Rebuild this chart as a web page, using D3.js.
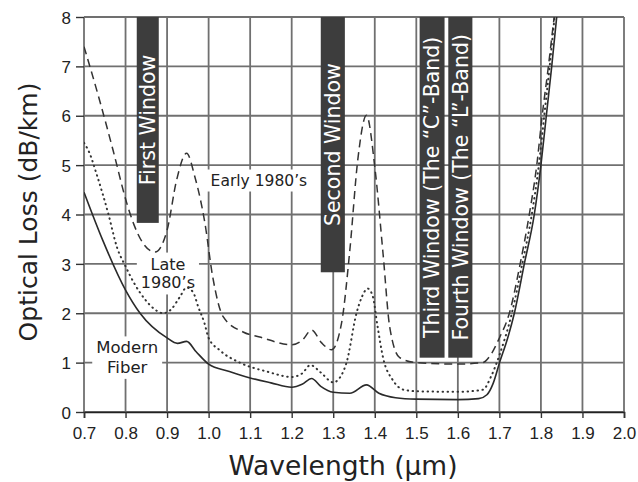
<!DOCTYPE html>
<html>
<head>
<meta charset="utf-8">
<script src="https://cdn.jsdelivr.net/npm/d3@7"></script>
<style>
  body { margin: 0; background: #fff; }
  svg { display: block; font-family: "DejaVu Sans", Verdana, sans-serif; }
  .tick text { fill: #222; font-size: 17px; }
</style>
</head>
<body>
<div id="chart"></div>
<script>
// wavelength (µm) / loss (dB/km)
const modernFiber = [
    [0.70, 4.45], [0.745, 3.48], [0.80, 2.47], [0.835, 2.0], [0.90, 1.50], [0.925, 1.39],
    [0.947, 1.43], [0.97, 1.22], [1.00, 0.97], [1.05, 0.82], [1.10, 0.69], [1.15, 0.59],
    [1.20, 0.50], [1.225, 0.56], [1.248, 0.68], [1.27, 0.52], [1.30, 0.40], [1.34, 0.38],
    [1.38, 0.55], [1.41, 0.38], [1.45, 0.29], [1.50, 0.26], [1.60, 0.25], [1.65, 0.27],
    [1.67, 0.35], [1.685, 0.58], [1.70, 0.99], [1.72, 1.5], [1.736, 2.0], [1.76, 3.0],
    [1.784, 4.0], [1.80, 5.0], [1.813, 6.0], [1.826, 7.0], [1.838, 8.0], [1.845, 8.5]
];
const late1980s = [
    [0.70, 5.45], [0.712, 5.27], [0.731, 4.80], [0.758, 4.03], [0.78, 3.32], [0.80, 2.95],
    [0.82, 2.62], [0.845, 2.30], [0.87, 2.08], [0.89, 2.00], [0.91, 2.08], [0.93, 2.32],
    [0.947, 2.52], [0.963, 2.42], [0.975, 2.13], [0.99, 1.80], [1.00, 1.50], [1.027, 1.25],
    [1.075, 1.00], [1.14, 0.82], [1.20, 0.71], [1.225, 0.78], [1.245, 0.95], [1.27, 0.80],
    [1.30, 0.60], [1.32, 0.75], [1.332, 1.00], [1.356, 2.00], [1.37, 2.35], [1.383, 2.50],
    [1.395, 2.35], [1.407, 1.72], [1.42, 1.10], [1.443, 0.65], [1.47, 0.45], [1.50, 0.42],
    [1.60, 0.41], [1.66, 0.45], [1.68, 0.72], [1.69, 0.92], [1.70, 1.15], [1.73, 2.0],
    [1.755, 3.0], [1.778, 4.0], [1.795, 5.0], [1.808, 6.0], [1.821, 7.0], [1.833, 8.0], [1.84, 8.5]
];
const early1980s = [
    [0.70, 7.40], [0.738, 6.30], [0.77, 5.30], [0.803, 4.23], [0.82, 3.80], [0.842, 3.42],
    [0.871, 3.24], [0.90, 3.68], [0.923, 4.70], [0.947, 5.24], [0.967, 4.76], [0.991, 3.83],
    [1.01, 2.73], [1.035, 1.93], [1.083, 1.62], [1.123, 1.52], [1.20, 1.36], [1.225, 1.45],
    [1.248, 1.66], [1.272, 1.40], [1.296, 1.26], [1.32, 1.80], [1.34, 3.28], [1.359, 5.10],
    [1.38, 6.01], [1.40, 4.97], [1.42, 3.20], [1.436, 1.72], [1.46, 1.10], [1.50, 1.00],
    [1.60, 0.97], [1.66, 1.00], [1.676, 1.12], [1.70, 1.5], [1.724, 2.0], [1.75, 3.0],
    [1.772, 4.0], [1.79, 5.0], [1.803, 6.0], [1.818, 7.0], [1.832, 8.0], [1.84, 8.5]
];

// transmission windows: start, end, lower edge of the box
const windowNames = ['First Window', 'Second Window', 'Third Window (The \u201CC\u201D-Band)', 'Fourth Window (The \u201CL\u201D-Band)'];
const windowStart = [0.827, 1.27, 1.508, 1.577];
const windowEnd = [0.88, 1.328, 1.568, 1.635];
const windowBottom = [3.83, 2.83, 1.1, 1.1];

const xTicks = d3.range(7, 21).map(d => d / 10);
const yTicks = d3.range(0, 9);

const width = 638, height = 482;
const plotLeft = 84, plotRight = 624, plotTop = 17, plotBottom = 412;

const svg = d3.select('#chart').append('svg')
    .attr('width', width)
    .attr('height', height);

const x = d3.scaleLinear().domain([0.7, 2.0]).range([plotLeft, plotRight]);
const y = d3.scaleLinear().domain([0, 8]).range([plotBottom, plotTop]);

svg.append('clipPath').attr('id', 'plot-clip')
    .append('rect')
    .attr('x', plotLeft).attr('y', plotTop)
    .attr('width', plotRight - plotLeft).attr('height', plotBottom - plotTop);

// grid
const grid = svg.append('g').attr('stroke', '#707070').attr('stroke-width', 1.8);
grid.selectAll('line.v').data(xTicks).enter().append('line')
    .attr('x1', d => x(d)).attr('x2', d => x(d))
    .attr('y1', plotTop).attr('y2', plotBottom);
grid.selectAll('line.h').data(yTicks).enter().append('line')
    .attr('x1', plotLeft).attr('x2', plotRight)
    .attr('y1', d => y(d)).attr('y2', d => y(d));

// axes
const xAxis = svg.append('g')
    .attr('transform', `translate(0,${plotBottom})`)
    .call(d3.axisBottom(x).tickValues(xTicks).tickSize(6).tickPadding(9).tickFormat(d3.format('.1f')));
const yAxis = svg.append('g')
    .attr('transform', `translate(${plotLeft},0)`)
    .call(d3.axisLeft(y).tickValues(yTicks).tickSize(8).tickPadding(5).tickFormat(d3.format('d')));
xAxis.select('.domain').attr('stroke', '#222').attr('stroke-width', 1.6);
yAxis.select('.domain').remove();
svg.selectAll('.tick line').attr('stroke', '#333').attr('stroke-width', 1.4);
yAxis.selectAll('.tick text').attr('dy', '0.36em');

// window boxes
const windows = svg.append('g').selectAll('g')
    .data(windowNames.map((name, i) => ({ name, x0: windowStart[i], x1: windowEnd[i], y0: windowBottom[i] })))
    .enter().append('g');
windows.append('rect')
    .attr('x', d => x(d.x0))
    .attr('y', plotTop)
    .attr('width', d => x(d.x1) - x(d.x0))
    .attr('height', d => y(d.y0) - plotTop)
    .attr('fill', '#3d3d3d');
windows.append('text')
    .attr('transform', d => `translate(${(x(d.x0) + x(d.x1)) / 2},${(plotTop + y(d.y0)) / 2}) rotate(-90)`)
    .attr('text-anchor', 'middle')
    .attr('dy', '0.36em')
    .attr('fill', '#fff')
    .attr('font-size', 20.5)
    .text(d => d.name);

// curve labels with white backing
const labels = [
    { lines: ['Early 1980\u2019s'], wl: 1.121, loss: 4.70, size: 15.5 },
    { lines: ['Late', '1980\u2019s'], wl: 0.902, loss: 2.81, size: 16 },
    { lines: ['Modern', 'Fiber'], wl: 0.804, loss: 1.11, size: 16.5 }
];
const labelG = svg.append('g').selectAll('g').data(labels).enter().append('g');
labelG.append('rect').attr('fill', '#fff');
labelG.append('text')
    .attr('text-anchor', 'middle')
    .attr('fill', '#222')
    .attr('font-size', d => d.size)
    .each(function (d) {
        const t = d3.select(this);
        const n = d.lines.length;
        d.lines.forEach((line, i) => {
            t.append('tspan')
                .attr('x', x(d.wl))
                .attr('y', y(d.loss))
                .attr('dy', `${(i - (n - 1) / 2) * 1.18 + 0.36}em`)
                .text(line);
        });
    });
labelG.each(function () {
    const g = d3.select(this);
    const b = g.select('text').node().getBBox();
    g.select('rect')
        .attr('x', b.x - 4).attr('y', b.y - 2)
        .attr('width', b.width + 8).attr('height', b.height + 4);
});

// curves
const line = d3.line()
    .x(d => x(d[0]))
    .y(d => y(d[1]))
    .curve(d3.curveMonotoneX);

const curves = svg.append('g').attr('clip-path', 'url(#plot-clip)');
curves.append('path').datum(early1980s)
    .attr('d', line).attr('fill', 'none')
    .attr('stroke', '#333').attr('stroke-width', 1.5)
    .attr('stroke-dasharray', '8,5');
curves.append('path').datum(late1980s)
    .attr('d', line).attr('fill', 'none')
    .attr('stroke', '#333').attr('stroke-width', 2)
    .attr('stroke-linecap', 'round')
    .attr('stroke-dasharray', '0.5,4.5');
curves.append('path').datum(modernFiber)
    .attr('d', line).attr('fill', 'none')
    .attr('stroke', '#2a2a2a').attr('stroke-width', 1.6);

// axis titles
svg.append('text')
    .attr('x', (plotLeft + plotRight) / 2 - 11)
    .attr('y', 475)
    .attr('text-anchor', 'middle')
    .attr('fill', '#222')
    .attr('font-size', 26.5)
    .text('Wavelength (\u00B5m)');
svg.append('text')
    .attr('transform', `translate(37,212) rotate(-90)`)
    .attr('text-anchor', 'middle')
    .attr('fill', '#222')
    .attr('font-size', 25)
    .text('Optical Loss (dB/km)');
</script>
</body>
</html>
